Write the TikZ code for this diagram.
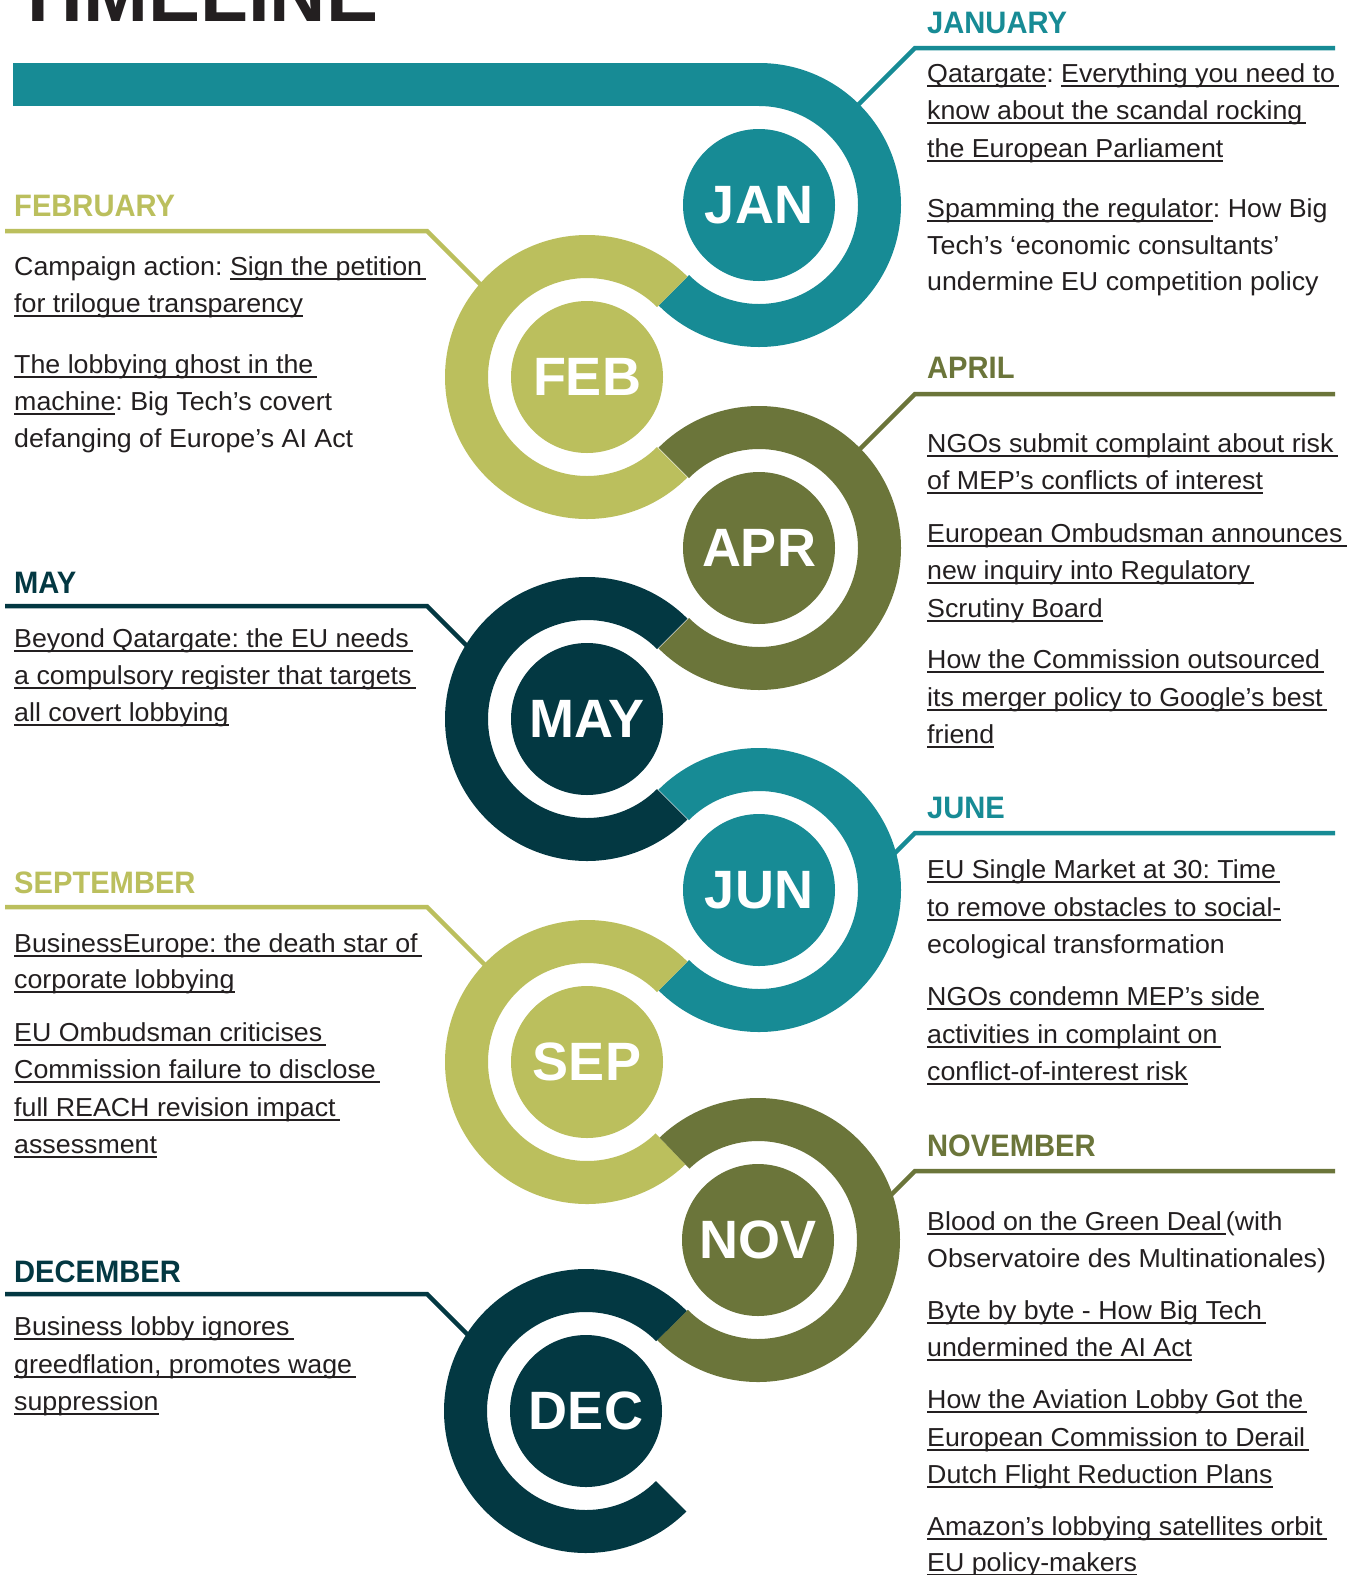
\documentclass[tikz,border=0pt]{standalone}
\usepackage{fontspec}
\setmainfont{Liberation Sans}
\newfontfamily\bodyfont[FakeStretch=1.03]{Liberation Sans}
\newfontfamily\headfont[FakeStretch=0.94]{Liberation Sans}
\usetikzlibrary{calc}
\definecolor{cteal}{RGB}{23,139,149}
\definecolor{clight}{RGB}{187,191,93}
\definecolor{cdark}{RGB}{107,117,58}
\definecolor{cnavy}{RGB}{3,56,66}
\definecolor{ctxt}{RGB}{35,31,32}
\newcommand\ul[1]{\setbox0\hbox{#1}\rlap{\rule[-4.5pt]{\wd0}{1.2pt}}\box0}
\newcommand\tsp{\kern4pt}
\newcounter{ln}
\newcommand\tl[3]{\stepcounter{ln}\node[body] (ln\arabic{ln}) at (#1,-#2) {#3};}
\newcommand\ringseg[4]{\fill[#2] ($(#1)+(#3:142pt)$) arc[start angle=#3,end angle=#4,radius=142pt] -- ($(#1)+(#4:99pt)$) arc[start angle=#4,end angle=#3,radius=99pt] -- cycle;}
\tikzset{
  body/.style={anchor=base west, inner sep=0pt, text=ctxt, font=\bodyfont\frenchspacing\fontsize{26}{37}\selectfont},
  head/.style={anchor=base west, inner sep=0pt, font=\headfont\bfseries\fontsize{31}{31}\selectfont},
  mcirc/.style={circle, minimum size=152pt, inner sep=0pt, text=white, font=\bfseries\fontsize{54}{54}\selectfont},
  leader/.style={line width=4.5pt, line join=miter}
}
\begin{document}
\begin{tikzpicture}[x=1pt,y=1pt]
\fill[white] (0,0) rectangle (1354,-1575);
\useasboundingbox (0,0) rectangle (1354,-1575);

% centres
\coordinate (jan) at (759,-205);
\coordinate (feb) at (587,-377);
\coordinate (apr) at (759,-548);
\coordinate (may) at (587,-719);
\coordinate (jun) at (759,-890);
\coordinate (sep) at (587,-1062);
\coordinate (nov) at (758,-1240);
\coordinate (dec) at (586,-1411);

% title
\node[anchor=base west, inner sep=0pt, text=ctxt, font=\bfseries\fontsize{78}{78}\selectfont] (title) at (14,-21) {TIMELINE};

% leaders
\coordinate (janR) at (1335,-48);  \coordinate (janK) at (915,-48);   \coordinate (janE) at ($(janK)+(-71,-71)$);
\coordinate (aprR) at (1335,-394); \coordinate (aprK) at (915,-394);  \coordinate (aprE) at ($(aprK)+(-70,-70)$);
\coordinate (junR) at (1335,-833); \coordinate (junK) at (915,-833);  \coordinate (junE) at ($(junK)+(-38,-38)$);
\coordinate (novR) at (1335,-1171);\coordinate (novK) at (915,-1171); \coordinate (novE) at ($(novK)+(-40,-40)$);
\coordinate (febL) at (5,-231);    \coordinate (febK) at (427,-231);  \coordinate (febE) at ($(febK)+(68,-68)$);
\coordinate (mayL) at (5,-606);    \coordinate (mayK) at (427,-606);  \coordinate (mayE) at ($(mayK)+(55,-55)$);
\coordinate (sepL) at (5,-907);    \coordinate (sepK) at (427,-907);  \coordinate (sepE) at ($(sepK)+(72,-72)$);
\coordinate (decL) at (5,-1294);   \coordinate (decK) at (427,-1294); \coordinate (decE) at ($(decK)+(55,-55)$);
\draw[leader, cteal] (janR) -- (janK) -- (janE);
\draw[leader, cdark] (aprR) -- (aprK) -- (aprE);
\draw[leader, cteal] (junR) -- (junK) -- (junE);
\draw[leader, cdark] (novR) -- (novK) -- (novE);
\draw[leader, clight] (febL) -- (febK) -- (febE);
\draw[leader, cnavy] (mayL) -- (mayK) -- (mayE);
\draw[leader, clight] (sepL) -- (sepK) -- (sepE);
\draw[leader, cnavy] (decL) -- (decK) -- (decE);

% top bar and rings
\fill[cteal] (13,-63) rectangle (759,-106);
\ringseg{jan}{cteal}{90}{-135}
\ringseg{feb}{clight}{45}{315}
\ringseg{apr}{cdark}{135}{-135}
\ringseg{may}{cnavy}{45}{315}
\ringseg{jun}{cteal}{135}{-135}
\ringseg{sep}{clight}{45}{313.85}
\ringseg{nov}{cdark}{133.85}{-135.17}
\ringseg{dec}{cnavy}{44.83}{315}

% month discs
\node[mcirc, fill=cteal] (janc) at (jan) {JAN};
\node[mcirc, fill=clight] (febc) at (feb) {FEB};
\node[mcirc, fill=cdark] (aprc) at (apr) {APR};
\node[mcirc, fill=cnavy] (mayc) at (may) {MAY};
\node[mcirc, fill=cteal] (junc) at (jun) {JUN};
\node[mcirc, fill=clight] (sepc) at (sep) {SEP};
\node[mcirc, fill=cdark] (novc) at (nov) {NOV};
\node[mcirc, fill=cnavy] (decc) at (dec) {DEC};

% headings
\node[head, text=cteal] (hjan) at (927,-33) {JANUARY};
\node[head, text=cdark] (hapr) at (927,-378) {APRIL};
\node[head, text=cteal] (hjun) at (927,-818) {JUNE};
\node[head, text=cdark] (hnov) at (927,-1156) {NOVEMBER};
\node[head, text=clight] (hfeb) at (14,-216) {FEBRUARY};
\node[head, text=cnavy] (hmay) at (14,-593) {MAY};
\node[head, text=clight] (hsep) at (14,-893) {SEPTEMBER};
\node[head, text=cnavy] (hdec) at (14,-1282) {DECEMBER};

% January
\tl{927}{82}{\ul{Qatargate}: \ul{Everything you need to\tsp}}
\tl{927}{119}{\ul{know about the scandal rocking\tsp}}
\tl{927}{157}{\ul{the European Parliament}}
\tl{927}{217}{\ul{Spamming the regulator}: How Big}
\tl{927}{254}{Tech’s ‘economic consultants’}
\tl{927}{290}{undermine EU competition policy}
% April
\tl{927}{452}{\ul{NGOs submit complaint about risk\tsp}}
\tl{927}{489}{\ul{of MEP’s conflicts of interest}}
\tl{927}{542}{\ul{European Ombudsman announces\tsp}}
\tl{927}{579}{\ul{new inquiry into Regulatory\tsp}}
\tl{927}{617}{\ul{Scrutiny Board}}
\tl{927}{668}{\ul{How the Commission outsourced\tsp}}
\tl{927}{706}{\ul{its merger policy to Google’s best\tsp}}
\tl{927}{743}{\ul{friend}}
% June
\tl{927}{878}{\ul{EU Single Market at 30: Time\tsp}}
\tl{927}{916}{\ul{to remove obstacles to social-}}
\tl{927}{953}{ecological transformation}
\tl{927}{1005}{\ul{NGOs condemn MEP’s side\tsp}}
\tl{927}{1043}{\ul{activities in complaint on\tsp}}
\tl{927}{1080}{\ul{conflict-of-interest risk}}
% November
\tl{927}{1230}{\ul{Blood on the Green Deal\tsp}(with}
\tl{927}{1267}{Observatoire des Multinationales)}
\tl{927}{1319}{\ul{Byte by byte - How Big Tech\tsp}}
\tl{927}{1356}{\ul{undermined the AI Act}}
\tl{927}{1408}{\ul{How the Aviation Lobby Got the\tsp}}
\tl{927}{1446}{\ul{European Commission to Derail\tsp}}
\tl{927}{1483}{\ul{Dutch Flight Reduction Plans}}
\tl{927}{1535}{\ul{Amazon’s lobbying satellites orbit\tsp}}
\tl{927}{1571}{\ul{EU policy-makers}}
% February
\tl{14}{275}{Campaign action: \ul{Sign the petition\tsp}}
\tl{14}{312}{\ul{for trilogue transparency}}
\tl{14}{373}{\ul{The lobbying ghost in the\tsp}}
\tl{14}{410}{\ul{machine}: Big Tech’s covert}
\tl{14}{447}{defanging of Europe’s AI Act}
% May
\tl{14}{647}{\ul{Beyond Qatargate: the EU needs\tsp}}
\tl{14}{684}{\ul{a compulsory register that targets\tsp}}
\tl{14}{721}{\ul{all covert lobbying}}
% September
\tl{14}{952}{\ul{BusinessEurope: the death star of\tsp}}
\tl{14}{988}{\ul{corporate lobbying}}
\tl{14}{1041}{\ul{EU Ombudsman criticises\tsp}}
\tl{14}{1078}{\ul{Commission failure to disclose\tsp}}
\tl{14}{1116}{\ul{full REACH revision impact\tsp}}
\tl{14}{1153}{\ul{assessment}}
% December
\tl{14}{1335}{\ul{Business lobby ignores\tsp}}
\tl{14}{1373}{\ul{greedflation, promotes wage\tsp}}
\tl{14}{1410}{\ul{suppression}}
\end{tikzpicture}
\end{document}
